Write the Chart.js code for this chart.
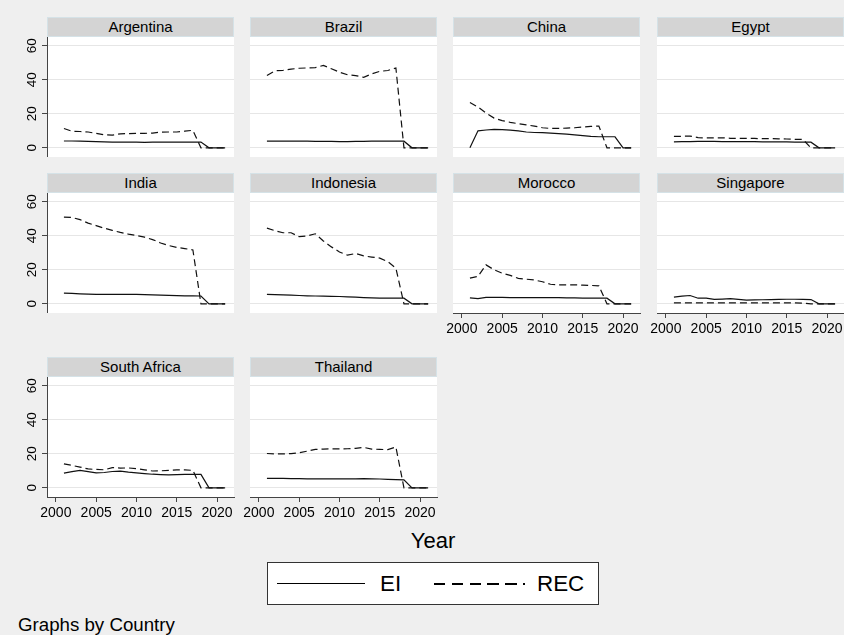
<!DOCTYPE html>
<html>
<head>
<meta charset="utf-8">
<script src="https://cdn.jsdelivr.net/npm/chart.js@4.4.1/dist/chart.umd.min.js"></script>
<style>
  html, body { margin: 0; padding: 0; }
  body {
    width: 844px; height: 635px; position: relative; overflow: hidden;
    background: #efefef; color: #000;
    font-family: "Liberation Sans", Arial, sans-serif;
  }
  .hdr {
    position: absolute; height: 20px; box-sizing: border-box;
    background: #d4d4d4; border: 1px solid #d5e2e7;
    font-size: 15px; line-height: 18px; text-align: center;
  }
  canvas { position: absolute; }
  #xtitle { position: absolute; left: 333px; width: 200px; top: 530px; text-align: center; font-size: 22px; line-height: 22px; }
  #legend { position: absolute; left: 267px; top: 562px; width: 332px; height: 43px; box-sizing: border-box; background: #fff; border: 1px solid #333; }
  .lg-txt { position: absolute; top: 10px; font-size: 22.4px; line-height: 22.4px; }
  #note { position: absolute; left: 18px; top: 616px; font-size: 18.7px; line-height: 18.7px; }
</style>
</head>
<body>
<div id="xtitle">Year</div>
<div id="legend">
  <div style="position:absolute;left:9px;top:20px;width:88px;height:0;border-top:1.6px solid #000;"></div>
  <div class="lg-txt" style="left:112px;">EI</div>
  <div style="position:absolute;left:166px;top:20px;width:91px;height:1.6px;background:repeating-linear-gradient(to right,#000 0 11.3px,transparent 11.3px 17.8px);"></div>
  <div class="lg-txt" style="left:269px;">REC</div>
</div>
<div id="note">Graphs by Country</div>

<script>
// ---- data ----
const years = [2001, 2002, 2003, 2004, 2005, 2006, 2007, 2008, 2009, 2010, 2011,
               2012, 2013, 2014, 2015, 2016, 2017, 2018, 2019, 2020, 2021];
const xTicks = [2000, 2005, 2010, 2015, 2020];
const yTicks = [0, 20, 40, 60];
const countries = ['Argentina', 'Brazil', 'China', 'Egypt', 'India', 'Indonesia',
                   'Morocco', 'Singapore', 'South Africa', 'Thailand'];

const eiArgentina  = [4.0,4.0,3.9,3.8,3.6,3.5,3.4,3.4,3.3,3.3,3.2,3.3,3.3,3.4,3.4,3.4,3.4,3.4,0,0,0];
const recArgentina = [11.4,9.7,9.6,9.3,8.5,7.6,7.5,8.2,8.4,8.5,8.5,8.7,9.2,9.3,9.3,9.8,10.3,0,0,0,0];

const eiBrazil  = [3.9,3.9,3.9,3.9,3.9,3.9,3.8,3.8,3.8,3.7,3.7,3.8,3.8,3.9,3.9,3.9,3.9,3.9,0,0,0];
const recBrazil = [42.6,45.3,45.6,46.3,46.8,47.0,47.2,48.5,46.5,44.5,43.0,42.5,41.5,43.5,45.0,45.5,47.0,0,0,0,0];

const eiChina  = [0,10.0,10.5,10.8,10.7,10.4,10.0,9.3,9.0,8.9,8.6,8.3,8.0,7.6,7.2,6.7,6.5,6.5,6.5,0,0];
const recChina = [26.7,24.0,20.5,17.5,16.0,15.0,14.2,13.5,12.8,11.8,11.4,11.4,11.6,11.8,12.2,12.6,12.8,0,0,0,0];

const eiEgypt  = [3.5,3.6,3.7,3.8,3.8,3.8,3.7,3.7,3.6,3.6,3.6,3.5,3.5,3.5,3.5,3.4,3.4,3.3,0,0,0];
const recEgypt = [6.7,6.8,6.9,6.0,5.8,5.8,5.9,5.6,5.6,5.5,5.5,5.4,5.4,5.3,5.2,5.0,4.9,0,0,0,0];

const eiIndia  = [6.3,6.1,5.9,5.7,5.6,5.5,5.5,5.6,5.5,5.5,5.4,5.3,5.1,5.0,4.8,4.7,4.7,4.6,0,0,0];
const recIndia = [51.0,50.8,49.5,47.5,46.0,44.5,43.2,42.0,41.0,40.2,39.2,37.8,35.8,34.3,33.2,32.5,31.7,0,0,0,0];

const eiIndonesia  = [5.5,5.4,5.3,5.1,4.9,4.7,4.6,4.5,4.4,4.3,4.1,3.9,3.7,3.5,3.4,3.3,3.3,3.3,0,0,0];
const recIndonesia = [44.5,43.0,41.8,41.8,39.5,40.0,41.2,37.0,33.5,30.5,28.6,29.6,28.2,27.5,26.9,24.8,21.0,0,0,0,0];

const eiMorocco  = [3.5,3.1,3.8,3.8,3.8,3.7,3.6,3.6,3.6,3.6,3.6,3.6,3.5,3.5,3.4,3.4,3.4,3.3,0,0,0];
const recMorocco = [15.1,16.1,22.9,20.0,18.0,16.7,15.0,14.5,14.0,13.0,11.5,11.2,11.2,11.2,11.0,10.8,10.6,0,0,0,0];

const eiSingapore  = [3.9,4.5,4.9,3.3,3.3,2.6,2.8,3.1,2.6,2.2,2.3,2.4,2.5,2.6,2.7,2.7,2.6,2.5,0,0,0];
const recSingapore = [0.5,0.5,0.5,0.5,0.5,0.5,0.5,0.5,0.5,0.5,0.5,0.5,0.5,0.5,0.5,0.5,0.4,0,0,0,0];

const eiSouthAfrica  = [8.7,9.5,10.3,9.5,8.8,9.0,9.6,9.8,9.2,8.8,8.4,8.0,7.8,7.6,7.8,7.9,7.9,7.9,0,0,0];
const recSouthAfrica = [14.1,13.2,12.2,11.1,10.8,10.6,11.9,11.6,11.7,11.3,10.6,9.9,10.0,10.3,10.5,10.5,10.3,0,0,0,0];

const eiThailand  = [5.5,5.5,5.5,5.4,5.4,5.3,5.3,5.3,5.3,5.3,5.3,5.3,5.4,5.3,5.2,5.0,4.8,4.7,0,0,0];
const recThailand = [20.2,20.0,20.0,20.1,20.6,21.6,22.6,22.8,22.9,22.9,23.0,23.2,23.8,22.8,22.6,22.5,24.0,0,0,0,0];

const eiSeries  = [eiArgentina, eiBrazil, eiChina, eiEgypt, eiIndia, eiIndonesia, eiMorocco, eiSingapore, eiSouthAfrica, eiThailand];
const recSeries = [recArgentina, recBrazil, recChina, recEgypt, recIndia, recIndonesia, recMorocco, recSingapore, recSouthAfrica, recThailand];

// ---- layout ----
const colLeft = [47, 250, 453, 657];
const rowTop = [37, 193, 377];
const plotW = 187, plotH = 120, yAxisW = 47, xAxisH = 42, rightPad = 20;
const FONT = '"Liberation Sans", Arial, sans-serif';

// white plot region
const plotBg = {
  id: 'plotBg',
  beforeDraw(chart) {
    const a = chart.chartArea;
    chart.ctx.save();
    chart.ctx.fillStyle = '#fff';
    chart.ctx.fillRect(a.left, a.top, a.right - a.left, a.bottom - a.top);
    chart.ctx.restore();
  }
};

// vertical (rotated) y tick labels, Stata style
const yLabels = {
  id: 'yLabels',
  afterDraw(chart, args, opts) {
    if (!opts.show) return;
    const s = chart.scales.y, ctx = chart.ctx;
    ctx.save();
    ctx.font = '13.5px ' + FONT;
    ctx.fillStyle = '#000';
    ctx.textAlign = 'center';
    ctx.textBaseline = 'middle';
    yTicks.forEach(v => {
      ctx.save();
      ctx.translate(31.5, s.getPixelForValue(v));
      ctx.rotate(-Math.PI / 2);
      ctx.fillText(String(v), 0, 1);
      ctx.restore();
    });
    ctx.restore();
  }
};

function toPoints(vals) {
  return years.map((y, i) => ({ x: y, y: vals[i] }));
}

countries.forEach((name, i) => {
  const row = Math.floor(i / 4), col = i % 4;
  const showY = col === 0;
  // x axis on the bottom panel of every column
  const showX = (row === 2) || (row === 1 && col >= 2);

  const hdr = document.createElement('div');
  hdr.className = 'hdr';
  hdr.textContent = name;
  hdr.style.left = colLeft[col] + 'px';
  hdr.style.top = (rowTop[row] - 20) + 'px';
  hdr.style.width = plotW + 'px';
  document.body.appendChild(hdr);

  const cv = document.createElement('canvas');
  cv.width = yAxisW + plotW + rightPad;
  cv.height = plotH + (showX ? xAxisH : 0);
  cv.style.left = (colLeft[col] - yAxisW) + 'px';
  cv.style.top = rowTop[row] + 'px';
  document.body.appendChild(cv);

  new Chart(cv, {
    type: 'line',
    data: {
      datasets: [
        { label: 'EI', data: toPoints(eiSeries[i]), borderColor: '#111', borderWidth: 1.2,
          pointRadius: 0, tension: 0 },
        { label: 'REC', data: toPoints(recSeries[i]), borderColor: '#111', borderWidth: 1.2,
          borderDash: [7, 4], pointRadius: 0, tension: 0 }
      ]
    },
    options: {
      responsive: false,
      animation: false,
      events: [],
      layout: { padding: { left: 0, right: rightPad, top: 0, bottom: 0 } },
      plugins: {
        legend: { display: false },
        tooltip: { enabled: false },
        yLabels: { show: showY }
      },
      scales: {
        x: {
          type: 'linear',
          display: showX,
          min: 1998.9, max: 2022.1,
          afterBuildTicks: s => { s.ticks = xTicks.map(v => ({ value: v })); },
          afterFit: s => {
            if (!showX) return;
            s.height = xAxisH; s.paddingLeft = 0; s.paddingRight = 0;
          },
          grid: { drawOnChartArea: false, drawTicks: true, tickLength: 5, tickColor: '#444' },
          border: { display: true, color: '#444', width: 1 },
          ticks: { autoSkip: false, maxRotation: 0, padding: 3, color: '#000',
                   callback: v => String(v),
                   font: { family: FONT, size: 14 } }
        },
        y: {
          min: -5.4, max: 65.2,
          afterBuildTicks: s => { s.ticks = yTicks.map(v => ({ value: v })); },
          afterFit: s => { s.width = yAxisW; s.paddingTop = 0; s.paddingBottom = 0; },
          grid: { color: '#e6e6e6', lineWidth: 1, drawTicks: showY, tickLength: 5, tickColor: '#444' },
          border: { display: showY, color: '#444', width: 1 },
          ticks: { display: false }
        }
      }
    },
    plugins: [plotBg, yLabels]
  });
});
</script>
</body>
</html>
